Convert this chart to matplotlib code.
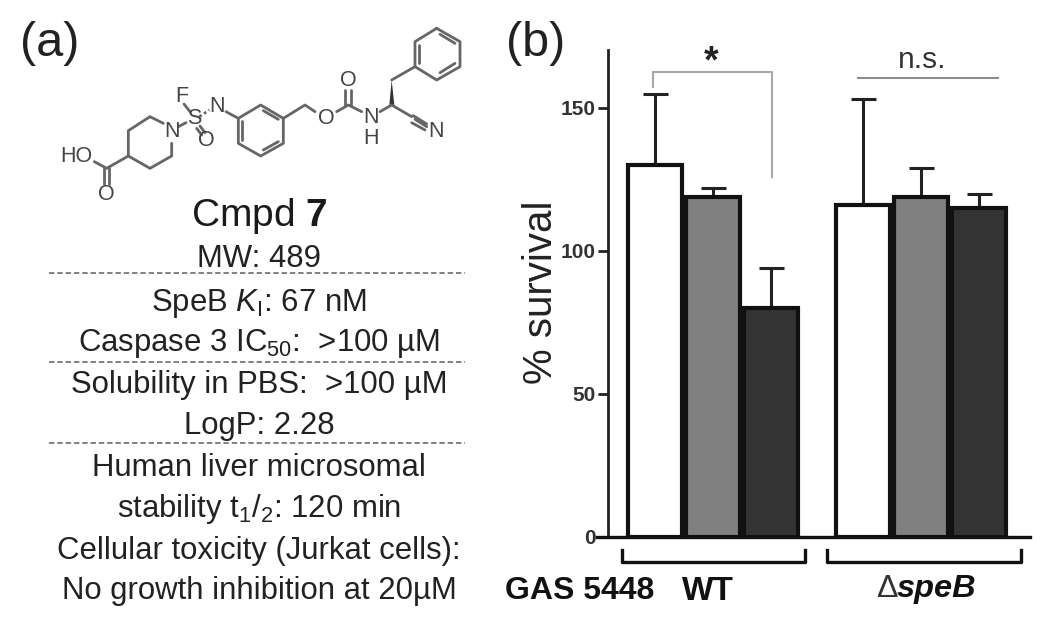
import matplotlib
matplotlib.use('Agg')
import matplotlib.pyplot as plt
from matplotlib.patches import Polygon

plt.rcParams['font.family'] = ['Liberation Sans', 'DejaVu Sans']
plt.rcParams['mathtext.fontset'] = 'custom'
plt.rcParams['mathtext.rm'] = 'Liberation Sans'
plt.rcParams['mathtext.it'] = 'Liberation Sans:italic'
plt.rcParams['mathtext.bf'] = 'Liberation Sans:bold'

W, H = 1050, 626

# Data
wt_values = [130, 119, 80]
wt_tops = [155, 122, 94]
speb_values = [116, 119, 115]
speb_tops = [153, 129, 120]
bar_colors = ['white', '#808080', '#333333']
y_ticks = [0, 50, 100, 150]

info_lines = [
    'MW: 489',
    r'SpeB $\mathit{K}_{\mathrm{I}}$: 67 nM',
    r'Caspase 3 IC$_{50}$:  >100 µM',
    'Solubility in PBS:  >100 µM',
    'LogP: 2.28',
    'Human liver microsomal',
    r'stability t$_{1}$/$_{2}$: 120 min',
    'Cellular toxicity (Jurkat cells):',
    'No growth inhibition at 20µM',
]
info_y = [259, 303, 343, 385, 426, 468, 509, 551, 591]
dash_y = [273, 362, 443]

fig = plt.figure(figsize=(W / 100, H / 100), dpi=100)

# full figure layer in pixels, for the labels and the structure
bg = fig.add_axes([0, 0, 1, 1])
bg.set_xlim(0, W)
bg.set_ylim(H, 0)
bg.axis('off')

text_color = '#222222'
bg.text(20, 44, '(a)', fontsize=35, color=text_color, ha='left', va='center')
bg.text(506, 44, '(b)', fontsize=35, color=text_color, ha='left', va='center')
bg.text(259.5, 216, r'Cmpd $\mathbf{7}$', fontsize=28, color='#1a1a1a', ha='center', va='center')

for txt, y in zip(info_lines, info_y):
    bg.text(259, y, txt, fontsize=22.4, color=text_color, ha='center', va='center')
for y in dash_y:
    bg.plot([49, 465], [y, y], color='#777777', lw=1.3, ls=(0, (3, 1.6)))

# Compound structure, from the 3x crop
mol_color = '#666666'
bonds = [
    [(1310, 85), (1380, 125), (1380, 200), (1310, 240), (1245, 200), (1245, 125), (1310, 85)],
    [(1245, 200), (1175, 240)],
    [(1175, 315), (1235, 350)],
    [(1175, 315), (1140, 335)],
    [(1085, 335), (1045, 315), (1010, 335)],
    [(945, 335), (915, 315), (850, 355)],
    [(850, 355), (850, 430), (782, 468), (715, 430), (715, 355), (782, 315), (850, 355)],
    [(715, 355), (678, 335)],
    [(490, 370), (450, 350), (385, 392), (385, 468), (450, 505), (515, 468), (515, 430)],
    [(385, 468), (320, 505), (283, 485)],
    [(552, 312), (570, 335)],
    [(535, 380), (558, 368)],
]
doubles = [
    [(1320, 103), (1365, 130)],
    [(1365, 190), (1320, 218)],
    [(1258, 190), (1258, 135)],
    [(1036, 315), (1036, 270)],
    [(1052, 315), (1052, 270)],
    [(727, 420), (727, 362)],
    [(790, 450), (835, 425)],
    [(790, 332), (835, 358)],
    [(313, 505), (313, 552)],
    [(327, 505), (327, 552)],
    [(590, 385), (605, 405)],
    [(600, 378), (615, 398)],
    [(1240, 347), (1280, 372)],
    [(1245, 358), (1280, 380)],
    [(1235, 368), (1275, 390)],
]
dashed = [
    [(598, 350), (628, 330)],
]
for pts in bonds + doubles:
    bg.plot([p[0] / 3 for p in pts], [p[1] / 3 for p in pts], color=mol_color, lw=2,
            solid_capstyle='round', solid_joinstyle='round')
for pts in dashed:
    bg.plot([p[0] / 3 for p in pts], [p[1] / 3 for p in pts], color=mol_color, lw=2, ls=(0, (1, 1)))
bg.add_patch(Polygon([(1175 / 3, 240 / 3), (1168 / 3, 315 / 3), (1183 / 3, 315 / 3)], color='#333333', lw=0))

atoms = [
    ('O', 1045, 240), ('O', 978, 355), ('N', 1112, 352), ('H', 1112, 415), ('N', 1308, 395),
    ('N', 650, 318), ('F', 545, 290), ('S', 582, 355), ('N', 515, 395), ('O', 618, 422),
    ('HO', 228, 470), ('O', 318, 582),
]
for lab, x, y in atoms:
    bg.text(x / 3, y / 3, lab, fontsize=15.5, color='#444444', ha='center', va='center')

# Bar panel
left, right, bottom, top = 597, 1030, 537, 50
ax = fig.add_axes([left / W, 1 - bottom / H, (right - left) / W, (bottom - top) / H])
ax.patch.set_alpha(0)
ax.set_xlim(left, right)
ax.set_ylim(0, (bottom - top) / 143 * 50)

bar_w = 54
step = 58
for start, values, tops in [(655, wt_values, wt_tops), (863, speb_values, speb_tops)]:
    xs = [start + i * step for i in range(len(values))]
    ax.bar(xs, values, width=bar_w, color=bar_colors, edgecolor='#111111', linewidth=3, zorder=3)
    lower = [0 for v in values]
    upper = [t - v for t, v in zip(tops, values)]
    ax.errorbar(xs, values, yerr=[lower, upper], fmt='none', ecolor='#222222', elinewidth=2.2,
                capsize=9, capthick=2.2, zorder=2)

for s in ['top', 'right']:
    ax.spines[s].set_visible(False)
ax.spines['left'].set_position(('data', 608))
ax.spines['left'].set_linewidth(2)
ax.spines['left'].set_color('#222222')
ax.spines['bottom'].set_linewidth(2.4)
ax.spines['bottom'].set_color('#111111')
ax.set_xticks([])
ax.set_yticks(y_ticks)
ax.tick_params(axis='y', length=7, width=2, color='#222222', pad=2)
for lab in ax.get_yticklabels():
    lab.set_fontsize(15)
    lab.set_fontweight('bold')
    lab.set_color('#333333')

# Annotations, in pixels on the top layer
bg.set_zorder(2)
bg.patch.set_alpha(0)
bg.text(541, 292, '% survival', fontsize=29, color=text_color, rotation=90, ha='center', va='center')
bg.plot([653, 653, 772, 772], [87, 72, 72, 177], color='#a8a8a8', lw=1.5)
bg.text(711, 62, '*', fontsize=27, fontweight='bold', color=text_color, ha='center', va='center')
bg.plot([858, 998], [78, 78], color='#8c8c8c', lw=1.5)
bg.text(922, 60, 'n.s.', fontsize=21.5, color='#333333', ha='center', va='center')

bg.plot([622, 622, 805, 805], [550, 562, 562, 550], color='#111111', lw=2.4)
bg.plot([827, 827, 1021, 1021], [550, 562, 562, 550], color='#111111', lw=2.4)
bg.text(505, 591, 'GAS 5448', fontsize=23, fontweight='bold', color='#111111', ha='left', va='center')
bg.text(682, 591, 'WT', fontsize=24, fontweight='bold', color='#111111', ha='left', va='center')
bg.text(876, 589, r'$\Delta$', fontsize=23, color='#333333', ha='left', va='center')
bg.text(897, 589, 'speB', fontsize=23.4, fontweight='bold', style='italic', color='#111111', ha='left', va='center')

fig.savefig('out.png', dpi=100)
